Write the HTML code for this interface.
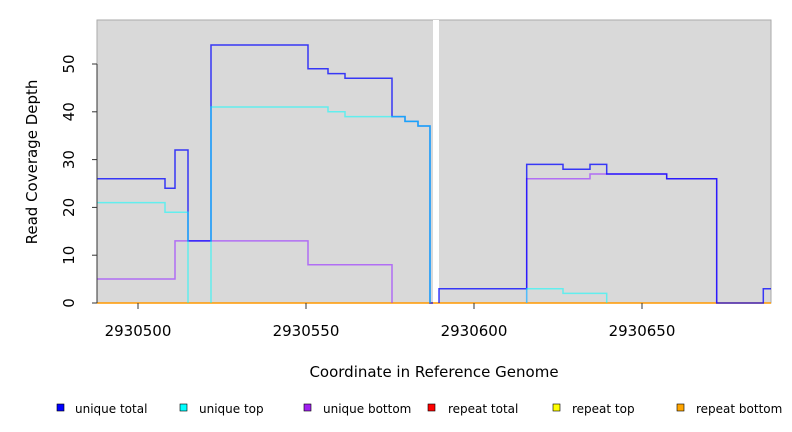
<!DOCTYPE html>
<html><head><meta charset="utf-8"><style>
body{margin:0;background:#fff;}
svg{display:block;font-family:"DejaVu Sans","Liberation Sans",sans-serif;}
</style></head><body>
<svg width="792" height="432" viewBox="0 0 792 432">
<rect x="97" y="20" width="674" height="283" fill="#d9d9d9" stroke="#aaa" stroke-width="1"/>
<rect x="433" y="20" width="6" height="284" fill="#fff"/>
<g fill="none" stroke-width="1.5">
<line x1="97" y1="303" x2="771" y2="303" stroke="#ff9900"/>
<path d="M97,279 H175 V240.9 H308 V264.8 H392 V303 M526.7,303 V178.7 H590 V174 H666.7 V178.7 H716.7 V303" stroke="#a040ff" stroke-opacity="0.7"/>
<path d="M97,178.7 H165 V188.3 H175 V150 H188 V240.9 H211 V45 H308 V68.8 H328 V73.6 H345 V78.3 H392 V116.6 H405 V121.4 H418 V126 H430 V303 H433 M439,303 V288.7 H526.7 V164.4 H563 V169.2 H590 V164.4 H606.7 V174 H666.7 V178.7 H716.7 V303 H763.3 V288.7 H771" stroke="#0000ff" stroke-opacity="0.75"/>
<path d="M97,202.6 H165 V212.2 H188 V303 M211,303 V107 H328 V111.8 H345 V116.6 H392 H405 V121.4 H418 V126 H430 V303 M526.7,303 V288.7 H563 V293.4 H606.7 V303" stroke="#00ffff" stroke-opacity="0.55"/>
</g>
<g stroke="#333" stroke-width="1">
<line x1="97" y1="64" x2="97" y2="303"/>
<line x1="92" y1="303" x2="97" y2="303"/><line x1="92" y1="255.2" x2="97" y2="255.2"/><line x1="92" y1="207.4" x2="97" y2="207.4"/><line x1="92" y1="159.6" x2="97" y2="159.6"/><line x1="92" y1="111.8" x2="97" y2="111.8"/><line x1="92" y1="64" x2="97" y2="64"/>
<line x1="138" y1="303" x2="138" y2="309"/><line x1="306" y1="303" x2="306" y2="309"/><line x1="474" y1="303" x2="474" y2="309"/><line x1="642" y1="303" x2="642" y2="309"/>
</g>
<g font-size="15" fill="#000" text-anchor="middle">
<text transform="translate(74,303) rotate(-90)">0</text>
<text transform="translate(74,255.2) rotate(-90)">10</text>
<text transform="translate(74,207.4) rotate(-90)">20</text>
<text transform="translate(74,159.6) rotate(-90)">30</text>
<text transform="translate(74,111.8) rotate(-90)">40</text>
<text transform="translate(74,64) rotate(-90)">50</text>
<text x="138" y="336">2930500</text><text x="306" y="336">2930550</text><text x="474" y="336">2930600</text><text x="642" y="336">2930650</text>
<text x="434" y="377" font-size="15">Coordinate in Reference Genome</text>
<text transform="translate(37,162) rotate(-90)" font-size="15">Read Coverage Depth</text>
</g>
<g font-size="12" fill="#000" stroke="#000" stroke-width="0.6">
<rect x="57" y="404" width="7" height="7" fill="#0000ff"/>
<rect x="180" y="404" width="7" height="7" fill="#00ffff"/>
<rect x="304" y="404" width="7" height="7" fill="#a020f0"/>
<rect x="428" y="404" width="7" height="7" fill="#ff0000"/>
<rect x="553" y="404" width="7" height="7" fill="#ffff00"/>
<rect x="677" y="404" width="7" height="7" fill="#ffa500"/>
</g>
<g font-size="12" fill="#000">
<text x="75" y="413">unique total</text>
<text x="199" y="413">unique top</text>
<text x="323" y="413">unique bottom</text>
<text x="448" y="413">repeat total</text>
<text x="572" y="413">repeat top</text>
<text x="696" y="413">repeat bottom</text>
</g>
</svg>
</body></html>
